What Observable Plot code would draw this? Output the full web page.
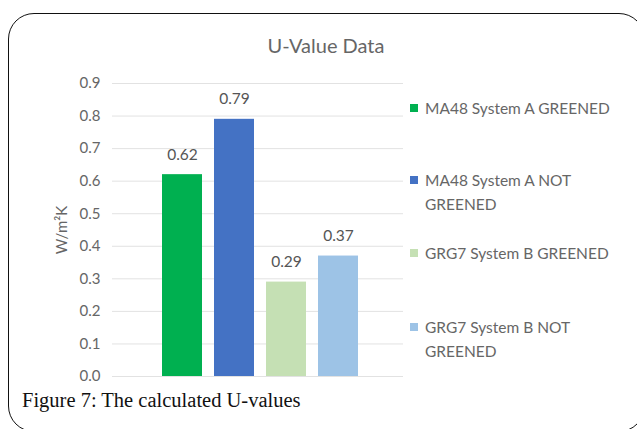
<!DOCTYPE html>
<html>
<head>
<meta charset="utf-8">
<script src="https://cdn.jsdelivr.net/npm/d3@7"></script>
<script src="https://cdn.jsdelivr.net/npm/@observablehq/plot@0.6"></script>
<style>
  html, body { margin: 0; padding: 0; background: #fff; width: 637px; height: 429px; overflow: hidden; }
  body { position: relative; font-family: Lato, "Open Sans", sans-serif; }
  #frame { position: absolute; left: 8px; top: 13px; width: 637px; height: 419px; border: 1px solid #111; border-radius: 26px; box-sizing: border-box; }
  #title { position: absolute; left: 226px; width: 200px; top: 33px; text-align: center; font-size: 20px; color: #666; }
  #chart { position: absolute; left: 0; top: 60px; }
  #legend { position: absolute; left: 410px; top: 0; }
  .item { position: absolute; left: 0; width: 210px; display: flex; align-items: flex-start; font-size: 15.5px; line-height: 24px; color: #666; }
  .sw { width: 8px; height: 8px; margin-top: 8px; margin-right: 7px; flex: none; }
  #caption { position: absolute; left: 22px; top: 389px; font-family: "Liberation Serif", "DejaVu Serif", serif; font-size: 20.5px; color: #111; }
</style>
</head>
<body>
<div id="frame"></div>
<div id="title"></div>
<div id="chart"></div>
<div id="legend"></div>
<div id="caption"></div>
<script>
const titleText = "U-Value Data";
const captionText = "Figure 7: The calculated U-values";
const yLabel = "W/m²K";
const series = ["MA48 System A GREENED", "MA48 System A NOT GREENED", "GRG7 System B GREENED", "GRG7 System B NOT GREENED"];
const values = [0.62, 0.79, 0.29, 0.37];
const valueLabels = ["0.62", "0.79", "0.29", "0.37"];
const colors = ["#00b050", "#4472c4", "#c5e0b4", "#9dc3e6"];
const yTicks = [0, 0.1, 0.2, 0.3, 0.4, 0.5, 0.6, 0.7, 0.8, 0.9];

const data = series.map((s, i) => ({series: s, value: values[i], label: valueLabels[i]}));

document.getElementById("title").textContent = titleText;
document.getElementById("caption").textContent = captionText;

const plot = Plot.plot({
  width: 410,
  height: 326,
  marginLeft: 112,
  marginRight: 7,
  marginTop: 23,
  marginBottom: 10,
  style: {fontFamily: "Lato, 'Open Sans', sans-serif", fontSize: "15px", color: "#666", background: "transparent"},
  x: {domain: series, axis: null, paddingInner: 0.234, paddingOuter: 0.9, align: 0.53},
  y: {domain: [0, 0.9], ticks: yTicks, tickFormat: d3.format(".1f"), label: yLabel, labelAnchor: "center", labelArrow: "none", labelOffset: 56, tickSize: 0, tickPadding: 12},
  color: {domain: series, range: colors},
  marks: [
    Plot.gridY(yTicks, {stroke: "#e2e2e2", strokeOpacity: 1}),
    Plot.barY(data, {x: "series", y: "value", fill: "series"}),
    Plot.text(data, {x: "series", y: "value", text: "label", dy: -20, fill: "#555", fontSize: 15.5})
  ]
});
document.getElementById("chart").appendChild(plot);

const legend = document.getElementById("legend");
const tops = [96, 168, 241, 315];
series.forEach((s, i) => {
  const it = document.createElement("div");
  it.className = "item";
  it.style.top = tops[i] + "px";
  const sw = document.createElement("span");
  sw.className = "sw";
  sw.style.background = colors[i];
  const tx = document.createElement("span");
  tx.textContent = s;
  it.appendChild(sw);
  it.appendChild(tx);
  legend.appendChild(it);
});
</script>
</body>
</html>
